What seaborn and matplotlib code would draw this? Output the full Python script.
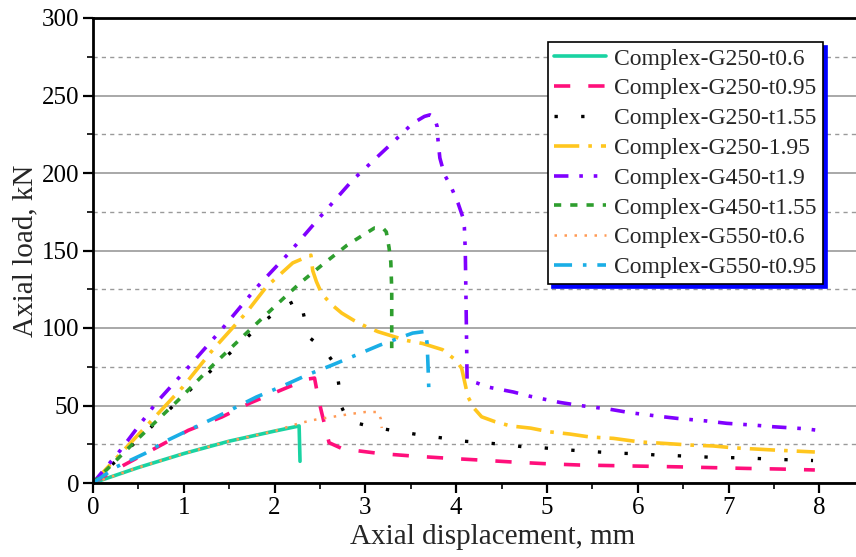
import numpy as np
import pandas as pd
import matplotlib
matplotlib.use("Agg")
import matplotlib.pyplot as plt
import seaborn as sns
from matplotlib.ticker import MultipleLocator

# ---------------- data ----------------
g250_t06_x = [0, 0.25, 0.5, 1.0, 1.5, 2.0, 2.27, 2.28]
g250_t06_y = [0, 5, 10, 19, 27, 33.5, 36.8, 14]

g250_t095_x = [0, 0.24, 0.65, 1.05, 1.42, 1.73, 2.02, 2.36, 2.44, 2.48, 2.52, 2.6, 2.75,
               3.16, 3.52, 3.9, 4.26, 4.63, 5.0, 5.36, 5.73, 6.1, 6.46, 6.83, 7.2, 7.57, 7.95]
g250_t095_y = [0, 8.4, 21.3, 34, 42.6, 51.6, 58.7, 67, 67.7, 55, 45, 26, 22,
               19, 17.4, 16, 14.8, 13.5, 12.4, 11.6, 11.2, 10.8, 10.4, 9.9, 9.4, 9.0, 8.4]

g250_t155_x = [0, 0.48, 0.94, 1.42, 1.9, 2.07, 2.28, 2.33, 2.38, 2.55, 2.68, 2.71, 2.73, 2.81,
               3.02, 3.23, 3.44, 3.66, 3.88, 4.08, 4.3, 4.5, 4.73, 4.94, 5.14, 5.36, 5.57,
               5.79, 6.0, 6.22, 6.43, 6.65, 6.86, 7.07, 7.29, 7.5, 7.71, 7.93]
g250_t155_y = [0, 27, 53, 79, 105, 113, 119, 106, 94, 86, 75, 62, 50, 40,
               37, 34.6, 32.5, 30.5, 28.8, 27, 26, 25, 23.4, 22.8, 21.7, 20.8, 20,
               19.2, 18.9, 18, 17.6, 17, 16.5, 16.3, 15.9, 15.3, 14.9, 14.5]

g250_195_x = [0, 0.32, 0.65, 0.99, 1.32, 1.69, 1.91, 2.2, 2.4, 2.42, 2.46, 2.52, 2.63, 2.74,
              2.87, 3.01, 3.14, 3.45, 3.63, 3.85, 4.0, 4.06, 4.13, 4.2, 4.28, 4.43, 4.6,
              4.82, 5.03, 5.25, 5.47, 5.73, 6.02, 6.28, 6.57, 6.83, 7.05, 7.49, 7.95]
g250_195_y = [0, 20, 40.6, 62, 86, 110, 126.6, 142, 147, 137, 130, 122, 115, 109.6,
              105, 100.8, 97.6, 92, 90, 86, 79, 74, 55.5, 48, 42.7, 39.5, 36.8,
              35.4, 33, 31.6, 29.7, 28.8, 26.5, 25.6, 24.5, 23.9, 22.7, 21.3, 20]

g450_t19_x = [0, 0.3, 0.7, 1.07, 1.43, 1.8, 2.16, 2.5, 2.86, 3.27, 3.52, 3.65, 3.71, 3.76,
              3.79, 3.8, 3.82, 3.87, 3.94, 4.02, 4.07, 4.09, 4.1, 4.11, 4.12, 4.23, 4.34,
              4.63, 4.81, 5.14, 5.36, 5.69, 5.91, 6.21, 6.43, 6.76, 6.98, 7.31, 7.49, 7.84, 7.98]
g450_t19_y = [0, 21, 52, 76, 100, 126, 148.5, 171.6, 195.5, 218, 232, 236.5, 237.5, 236,
              230, 221, 209.7, 199, 191.6, 180.6, 172, 165, 150, 110, 66.5, 64.5, 62,
              58.7, 56, 52, 50, 47.6, 45.4, 43.2, 41.7, 40, 38.5, 37.2, 36.3, 35, 34]

g450_t155_x = [0, 0.17, 0.48, 0.94, 1.32, 1.69, 2.04, 2.28, 2.53, 2.8, 2.94, 3.1, 3.2,
               3.23, 3.26, 3.28, 3.29, 3.29]
g450_t155_y = [0, 9.7, 27.7, 53.5, 76, 96.7, 116, 129, 141, 153.5, 158.7, 164.5, 164,
               162, 152, 142.5, 124.5, 87]

g550_t06_x = [0, 0.5, 1.0, 1.5, 2.0, 2.28, 2.46, 2.63, 2.83, 3.0, 3.14, 3.17, 3.18]
g550_t06_y = [0, 10, 19, 27, 33.5, 38.7, 41, 42.6, 44.5, 45.8, 45.8, 41.3, 35.5]

g550_t095_x = [0, 0.26, 0.57, 0.79, 1.05, 1.34, 1.8, 2.09, 2.37, 2.63, 2.9, 3.16, 3.44,
               3.52, 3.66, 3.68, 3.69, 3.7]
g550_t095_y = [0, 10.5, 19, 26.7, 34, 42, 55.5, 62.6, 70, 76, 82.6, 89, 95,
               96.7, 97.8, 90, 75, 58]

labels = ["Complex-G250-t0.6", "Complex-G250-t0.95", "Complex-G250-t1.55",
          "Complex-G250-1.95", "Complex-G450-t1.9", "Complex-G450-t1.55",
          "Complex-G550-t0.6", "Complex-G550-t0.95"]

x_ticks = [0, 1, 2, 3, 4, 5, 6, 7, 8]
y_ticks = [0, 50, 100, 150, 200, 250, 300]

series = [
    (g250_t06_x, g250_t06_y, dict(color="#19D3A2", lw=2.6, linestyle="-")),
    (g250_t095_x, g250_t095_y, dict(color="#FF0F7B", lw=2.6, linestyle=(0, (4.5, 5)))),
    (g250_t155_x, g250_t155_y, dict(color="black", lw=2.4, linestyle=(0, (1, 7)))),
    (g250_195_x, g250_195_y, dict(color="#FFC61E", lw=2.6, linestyle=(0, (7, 2.5, 1, 2.5)))),
    (g450_t19_x, g450_t19_y, dict(color="#8000FF", lw=2.6, linestyle=(0, (4, 3, 1, 3, 1, 3)))),
    (g450_t155_x, g450_t155_y, dict(color="#2E9E2E", lw=2.6, linestyle=(0, (2, 2.5)))),
    (g550_t06_x, g550_t06_y, dict(color="#FF9A55", lw=1.8, linestyle=(0, (1, 3)))),
    (g550_t095_x, g550_t095_y, dict(color="#1AAEE6", lw=2.6, linestyle=(0, (5, 3, 1, 3)))),
]

# ---------------- plot ----------------
sns.set_style("ticks")
plt.rcParams["font.family"] = ["Liberation Serif", "DejaVu Serif"]
plt.rcParams["mathtext.fontset"] = "stix"

fig = plt.figure(figsize=(8.56, 5.57), dpi=100)
ax = fig.add_axes([93 / 856, 74 / 557, (893 - 93) / 856, 465 / 557])

for (xs, ys, st), lab in zip(series, labels):
    df = pd.DataFrame({"x": xs, "y": ys})
    sns.lineplot(data=df, x="x", y="y", sort=False, estimator=None, ax=ax,
                 label=lab, dash_capstyle="butt", **st)

ax.set_xlim(0, (893 - 93) / 90.8)
ax.set_ylim(0, 300)
ax.set_xticks(x_ticks)
ax.set_yticks(y_ticks)
ax.xaxis.set_minor_locator(MultipleLocator(0.5))
ax.yaxis.set_minor_locator(MultipleLocator(25))

ax.grid(axis="y", which="major", color="#9a9a9a", lw=1.2, linestyle="-")
ax.grid(axis="y", which="minor", color="#9a9a9a", lw=1.0, linestyle=(0, (3, 3)))
ax.set_axisbelow(True)

for side in ["left", "bottom", "top"]:
    ax.spines[side].set_linewidth(2.0)
    ax.spines[side].set_color("black")
ax.spines["right"].set_visible(False)

ax.tick_params(which="major", direction="out", length=7, width=1.6, labelsize=18,
               colors="black", pad=3)
ax.tick_params(which="minor", direction="out", length=4, width=1.4)
ax.tick_params(axis="x", which="both", top=False)

ax.set_xlabel("Axial displacement, mm", fontsize=21, labelpad=4)
ax.set_ylabel("Axial load, kN", fontsize=21, labelpad=2)

leg = ax.legend(loc="upper left", bbox_to_anchor=((548 - 93) / 800, 0.948), borderaxespad=0,
                fontsize=17, frameon=True, fancybox=False, framealpha=1,
                edgecolor="black", handlelength=2.2, handletextpad=0.35,
                borderpad=0.25, labelspacing=0.35,
                shadow={"ox": 3, "oy": -3, "facecolor": "#0000FF",
                        "edgecolor": "#0000FF", "alpha": 1})
leg.get_frame().set_linewidth(1.2)

fig.savefig("out.png", dpi=100)
